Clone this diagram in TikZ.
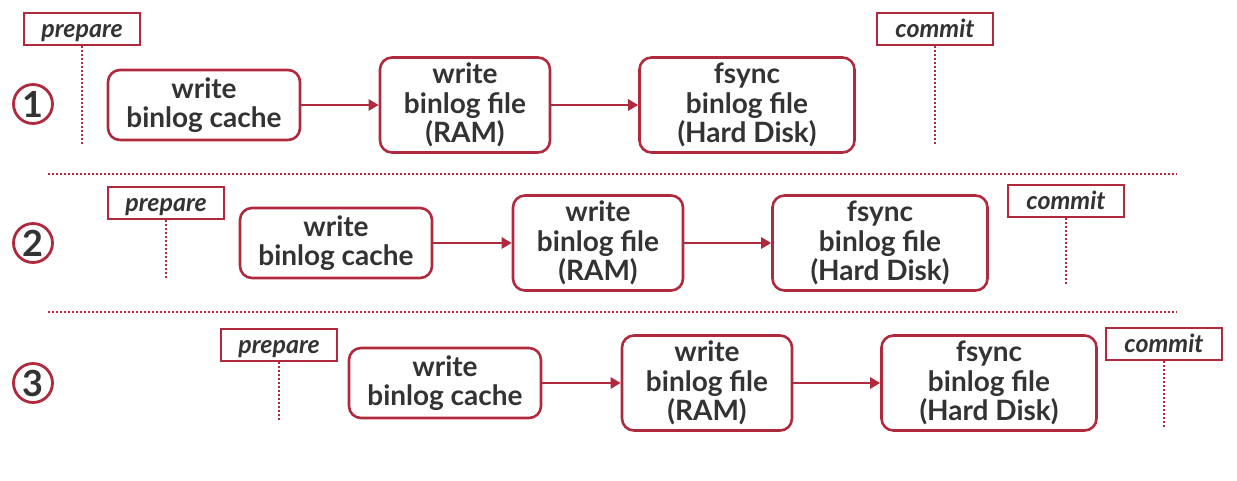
\documentclass[tikz,border=0pt]{standalone}
\usepackage{fontspec}
\setmainfont{Lato}
\usetikzlibrary{arrows.meta}
\definecolor{crim}{RGB}{176,42,62}
\definecolor{ink}{RGB}{51,51,51}
\tikzset{
  stepbox/.style={draw=crim, line width=2.6pt, rounded corners=12pt, fill=white,
    align=center, text=ink, font=\fontsize{28}{29.5}\selectfont\bfseries, inner sep=0pt,
    execute at begin node={\rule{0pt}{28pt}}},
  tagbox/.style={draw=crim, line width=2pt, fill=white, text=ink, inner sep=0pt,
    minimum width=116pt, minimum height=32pt, text height=21pt, text depth=4pt,
    font=\fontsize{25}{26}\selectfont\bfseries\itshape},
  numcirc/.style={draw=crim, circle, line width=2.8pt, minimum size=39pt, inner sep=0pt,
    text=ink, font=\fontsize{36}{36}\selectfont\bfseries},
  flow/.style={draw=crim, line width=2.6pt, -{Triangle[length=10pt,width=11pt]}},
  tagline/.style={draw=crim, line width=2pt, dash pattern=on 2pt off 2pt},
  sepline/.style={draw=crim, line width=2pt, dash pattern=on 2pt off 2pt}
}
\begin{document}
\begin{tikzpicture}[x=1pt,y=-1pt]
\useasboundingbox[fill=white] (0,0) rectangle (1237,480);

% ---------- row 1 ----------
\node[numcirc] (n1) at (33,104) {1};
\node[tagbox] (p1) at (82,29) {prepare};
\node[tagbox] (c1) at (935,29) {commit};
\coordinate (p1e) at (82,145);
\coordinate (c1e) at (935,145);
\draw[tagline] (p1.south) -- (p1e);
\draw[tagline] (c1.south) -- (c1e);
\node[stepbox, minimum width=192pt, minimum height=70pt] (a1) at (204,105) {write\\binlog cache};
\node[stepbox, minimum width=170pt, minimum height=95pt] (b1) at (465,105) {write\\binlog file\\(RAM)};
\node[stepbox, minimum width=215pt, minimum height=95pt] (f1) at (747,105) {fsync\\binlog file\\(Hard Disk)};
\draw[flow] (a1) -- (b1);
\draw[flow] (b1) -- (f1);

% separator
\coordinate (s1a) at (48,174);
\coordinate (s1b) at (1177,174);
\draw[sepline] (s1a) -- (s1b);

% ---------- row 2 ----------
\node[numcirc] (n2) at (33,243) {2};
\node[tagbox] (p2) at (166,203) {prepare};
\node[tagbox] (c2) at (1066,201) {commit};
\coordinate (p2e) at (166,278);
\coordinate (c2e) at (1066,285);
\draw[tagline] (p2.south) -- (p2e);
\draw[tagline] (c2.south) -- (c2e);
\node[stepbox, minimum width=192pt, minimum height=70pt] (a2) at (336,243) {write\\binlog cache};
\node[stepbox, minimum width=170pt, minimum height=95pt] (b2) at (598,243) {write\\binlog file\\(RAM)};
\node[stepbox, minimum width=215pt, minimum height=95pt] (f2) at (880,243) {fsync\\binlog file\\(Hard Disk)};
\draw[flow] (a2) -- (b2);
\draw[flow] (b2) -- (f2);

% separator
\coordinate (s2a) at (48,312);
\coordinate (s2b) at (1177,312);
\draw[sepline] (s2a) -- (s2b);

% ---------- row 3 ----------
\node[numcirc] (n3) at (33,383) {3};
\node[tagbox] (p3) at (279,345) {prepare};
\node[tagbox] (c3) at (1164,344) {commit};
\coordinate (p3e) at (279,420);
\coordinate (c3e) at (1164,428);
\draw[tagline] (p3.south) -- (p3e);
\draw[tagline] (c3.south) -- (c3e);
\node[stepbox, minimum width=192pt, minimum height=70pt] (a3) at (445,383) {write\\binlog cache};
\node[stepbox, minimum width=170pt, minimum height=95pt] (b3) at (707,383) {write\\binlog file\\(RAM)};
\node[stepbox, minimum width=215pt, minimum height=95pt] (f3) at (989,383) {fsync\\binlog file\\(Hard Disk)};
\draw[flow] (a3) -- (b3);
\draw[flow] (b3) -- (f3);
\end{tikzpicture}
\end{document}
